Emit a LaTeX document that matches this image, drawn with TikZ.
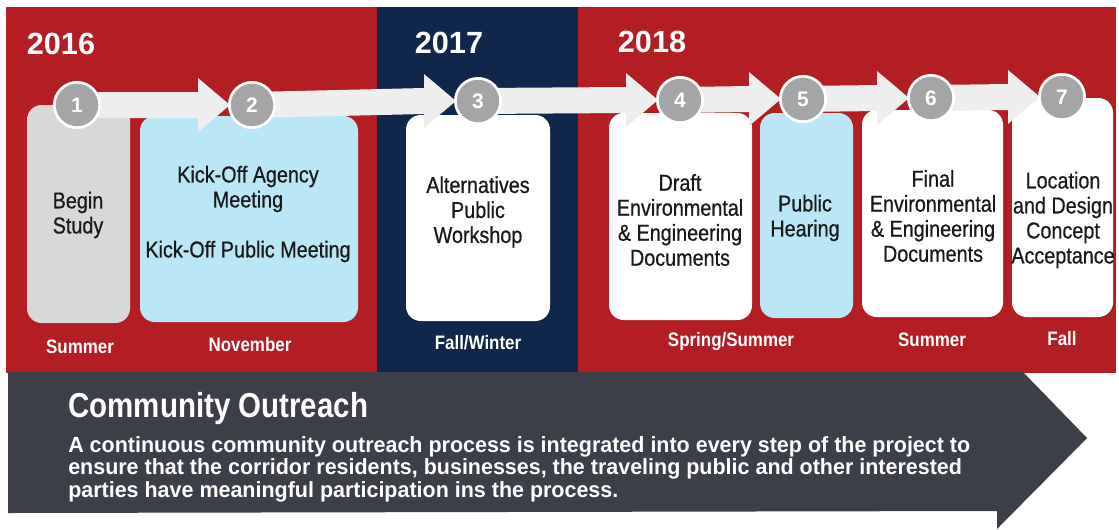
\documentclass[tikz,border=0pt]{standalone}
\usepackage{fontspec}
\usepackage{graphicx}
\setmainfont{Liberation Sans}
\newfontfamily\narrowf{Liberation Sans}[FakeStretch=0.87]
\newfontfamily\boxf{Liberation Sans}[FakeStretch=0.86,FakeBold=0.6]
\usetikzlibrary{calc,fit}
\pgfdeclarelayer{back}
\pgfdeclarelayer{mid}
\pgfsetlayers{back,mid,main}
\definecolor{redbg}{RGB}{178,30,36}
\definecolor{navybg}{RGB}{16,38,74}
\definecolor{lblue}{RGB}{186,230,245}
\definecolor{gbox}{RGB}{216,216,216}
\definecolor{circgray}{RGB}{165,165,168}
\definecolor{bandgray}{RGB}{238,238,238}
\definecolor{darkarrow}{RGB}{60,62,72}
\definecolor{txt}{RGB}{25,25,25}
\newsavebox\fitbox
\newlength\fitlen
\newcommand\fitto[2]{\sbox\fitbox{#2}\setlength\fitlen{\wd\fitbox}\pgfmathsetmacro\fitsx{#1/\fitlen}\scalebox{\fitsx}[1]{\usebox\fitbox}}
\newcommand\bandarrow[2]{\fill[bandgray] ($(#1.center)+(0,-13)$) -- ($(#2.west)+(-30,-13)$) -- ($(#2.west)+(-30,-27)$) -- ($(#2.west)+(2,0)$) -- ($(#2.west)+(-30,27)$) -- ($(#2.west)+(-30,13)$) -- ($(#1.center)+(0,13)$) -- cycle;}
\begin{document}
\begin{tikzpicture}[x=0.75pt,y=-0.75pt,
  boxtxt/.style={font=\boxf\fontsize{17.25pt}{18.75pt}\selectfont, align=center, text=txt, inner sep=0pt},
  season/.style={font=\narrowf\bfseries\fontsize{14.6pt}{16pt}\selectfont, text=white, inner sep=0pt},
  year/.style={font=\bfseries\fontsize{23pt}{25pt}\selectfont, text=white, inner sep=0pt},
  num/.style={circle, fill=circgray, draw=white, line width=2pt, minimum size=34pt, inner sep=0pt, text=white, font=\bfseries\fontsize{15.75pt}{16pt}\selectfont},
  stepbox/.style={rounded corners=11pt, inner sep=0pt},
]
\useasboundingbox (0,0) rectangle (1119,529);
\begin{pgfonlayer}{back}
  % backgrounds
  \fill[redbg] (6,7) rectangle (1116,373);
  \fill[navybg] (377,7) rectangle (578,373);
  \fill[darkarrow] (8,372) -- (1023,372) -- (1087,438) -- (997,529) -- (997,511) -- (8,513) -- cycle;
  % boxes
  \node[stepbox, fill=gbox, fit={(27,105) (130,323)}] (b1) {};
  \node[stepbox, fill=lblue, fit={(140,116) (358,322)}] (b2) {};
  \node[stepbox, fill=white, fit={(406,115) (550,321)}] (b3) {};
  \node[stepbox, fill=white, fit={(609,113) (752,320)}] (b4) {};
  \node[stepbox, fill=lblue, fit={(760,113) (853,318)}] (b5) {};
  \node[stepbox, fill=white, fit={(862,110) (1003,317)}] (b6) {};
  \node[stepbox, fill=white, fit={(1012,98) (1113,317)}] (b7) {};
\end{pgfonlayer}
% step circles
\node[num] (c1) at (77,105) {1};
\node[num] (c2) at (252,105) {2};
\node[num] (c3) at (478,101) {3};
\node[num] (c4) at (680,100) {4};
\node[num] (c5) at (803,99) {5};
\node[num] (c6) at (931,98) {6};
\node[num] (c7) at (1062,97) {7};
\begin{pgfonlayer}{mid}
  \bandarrow{c1}{c2}
  \bandarrow{c2}{c3}
  \bandarrow{c3}{c4}
  \bandarrow{c4}{c5}
  \bandarrow{c5}{c6}
  \bandarrow{c6}{c7}
\end{pgfonlayer}
% years
\node[year] (y1) at (61,44) {2016};
\node[year] (y2) at (449,43) {2017};
\node[year] (y3) at (652,42) {2018};
% box texts
\node[boxtxt] (t1) at (78,215) {Begin\\Study};
\node[boxtxt] (t2) at (248,214) {Kick-Off Agency\\Meeting\\[18.75pt]Kick-Off Public Meeting};
\node[boxtxt] (t3) at (478,212) {Alternatives\\Public\\Workshop};
\node[boxtxt] (t4) at (680,220) {Draft\\Environmental\\\& Engineering\\Documents};
\node[boxtxt] (t5) at (805,218) {Public\\Hearing};
\node[boxtxt] (t6) at (933,216) {Final\\Environmental\\\& Engineering\\Documents};
\node[boxtxt] (t7) at (1063,220) {Location\\and Design\\Concept\\Acceptance};
% seasons
\node[season] (s1) at (80,347) {Summer};
\node[season] (s2) at (250,345) {November};
\node[season] (s3) at (478,343) {Fall/Winter};
\node[season] (s4) at (731,342) {Spring/Summer};
\node[season] (s5) at (932,340) {Summer};
\node[season] (s6) at (1062,339) {Fall};
% community outreach
\node[anchor=base west, inner sep=0pt, text=white, font=\bfseries\fontsize{26pt}{28pt}\selectfont] (co) at (68,417) {\fitto{225pt}{Community Outreach}};
\node[anchor=base west, inner sep=0pt, text=white, font=\bfseries\fontsize{16.5pt}{16.5pt}\selectfont] (body) at (68,452) {\fitto{676.5pt}{\renewcommand\arraystretch{1}\begin{tabular}[t]{@{}l@{}}A continuous community outreach process is integrated into every step of the project to\\ensure that the corridor residents, businesses, the traveling public and other interested\\parties have meaningful participation ins the process.\end{tabular}}};
\end{tikzpicture}
\end{document}
